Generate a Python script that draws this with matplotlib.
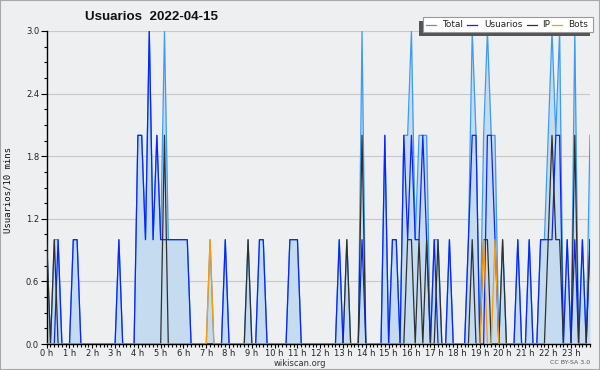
import matplotlib
matplotlib.use("Agg")
import matplotlib.pyplot as plt
from matplotlib.patches import Rectangle
from matplotlib.lines import Line2D
from matplotlib.ticker import MultipleLocator

# ---- data: 144 ten-minute slots of 2022-04-15 ----
slots = list(range(144))
hour_ticks = list(range(0, 144, 6))
hour_labels = [f"{h} h" for h in range(24)]
y_ticks = [0.0, 0.6, 1.2, 1.8, 2.4, 3.0]
y_labels = ["0.0", "0.6", "1.2", "1.8", "2.4", "3.0"]

total = [1, 0, 1, 1, 0, 0, 0, 1, 1, 0, 0, 0,
         0, 0, 0, 0, 0, 0, 0, 1, 0, 0, 0, 0,
         2, 2, 1, 3, 1, 2, 1, 3, 1, 1, 1, 1,
         1, 1, 0, 0, 0, 0, 0, 1, 0, 0, 0, 1,
         0, 0, 0, 0, 0, 1, 0, 0, 1, 1, 0, 0,
         0, 0, 0, 0, 1, 1, 1, 0, 0, 0, 0, 0,
         0, 0, 0, 0, 0, 1, 0, 1, 0, 0, 0, 3,
         0, 0, 0, 0, 0, 2, 0, 1, 1, 0, 2, 2,
         3, 1, 2, 2, 2, 0, 1, 1, 0, 0, 1, 0,
         0, 0, 0, 1, 3, 2, 0, 2, 3, 2, 2, 0,
         1, 0, 0, 0, 1, 0, 0, 1, 0, 0, 1, 1,
         2, 3, 2, 3, 0, 1, 0, 3, 0, 1, 0, 2]

usuarios = [0, 0, 0, 1, 0, 0, 0, 1, 1, 0, 0, 0,
            0, 0, 0, 0, 0, 0, 0, 1, 0, 0, 0, 0,
            2, 2, 1, 3, 1, 2, 1, 1, 1, 1, 1, 1,
            1, 1, 0, 0, 0, 0, 0, 0, 0, 0, 0, 1,
            0, 0, 0, 0, 0, 0, 0, 0, 1, 1, 0, 0,
            0, 0, 0, 0, 1, 1, 1, 0, 0, 0, 0, 0,
            0, 0, 0, 0, 0, 1, 0, 0, 0, 0, 0, 1,
            0, 0, 0, 0, 0, 2, 0, 1, 1, 0, 2, 1,
            2, 1, 1, 2, 1, 0, 1, 0, 0, 0, 1, 0,
            0, 0, 0, 1, 2, 2, 0, 0, 2, 2, 1, 0,
            0, 0, 0, 0, 1, 0, 0, 1, 0, 0, 1, 1,
            1, 1, 2, 2, 0, 1, 0, 1, 0, 1, 0, 1]

ip = [1, 0, 1, 0, 0, 0, 0, 0, 0, 0, 0, 0,
      0, 0, 0, 0, 0, 0, 0, 0, 0, 0, 0, 0,
      0, 0, 0, 0, 0, 0, 0, 2, 0, 0, 0, 0,
      0, 0, 0, 0, 0, 0, 0, 0, 0, 0, 0, 0,
      0, 0, 0, 0, 0, 1, 0, 0, 0, 0, 0, 0,
      0, 0, 0, 0, 0, 0, 0, 0, 0, 0, 0, 0,
      0, 0, 0, 0, 0, 0, 0, 1, 0, 0, 0, 2,
      0, 0, 0, 0, 0, 0, 0, 0, 0, 0, 0, 1,
      1, 0, 1, 0, 1, 0, 0, 1, 0, 0, 0, 0,
      0, 0, 0, 0, 1, 0, 0, 1, 1, 0, 0, 0,
      1, 0, 0, 0, 0, 0, 0, 0, 0, 0, 0, 0,
      1, 2, 1, 1, 0, 0, 0, 2, 0, 0, 0, 1]

bots = [0] * 43 + [1] + [0] * 71 + [1, 0, 0, 1] + [0] * 25

# ---- styling ----
BG = "#EEEFF1"
C_TOTAL = "#3D9BF0"
C_FILL = "#C5DCF0"
C_USR = "#0A24FF"
C_IP = "#303030"
C_BOTS = "#FF9A00"

fig = plt.figure(figsize=(6.0, 3.7), dpi=100, facecolor=BG)
W, H = 600.0, 370.0
ax = fig.add_axes([46.7 / W, 1 - 344 / H, (590 - 46.7) / W, (344 - 31) / H])
ax.set_facecolor(BG)

ax.fill_between(slots, total, 0, color=C_FILL, linewidth=0, zorder=1)
ax.plot(slots, total, color=C_TOTAL, lw=0.9, zorder=2)
ax.plot(slots, usuarios, color=C_USR, lw=0.9, zorder=3)
ax.plot(slots, ip, color=C_IP, lw=0.9, zorder=4)
ax.plot(slots, bots, color=C_BOTS, lw=0.9, zorder=5)

ax.set_xlim(0, 143)
ax.set_ylim(0, 3.0)
ax.set_yticks(y_ticks)
ax.set_yticklabels(y_labels)
ax.yaxis.set_minor_locator(MultipleLocator(0.15))
ax.set_xticks(hour_ticks)
ax.set_xticklabels(hour_labels)
ax.xaxis.set_minor_locator(MultipleLocator(1))
ax.grid(axis="y", color="#C8C8C8", lw=0.8, zorder=0)
ax.set_axisbelow(True)
for s in ("top", "right"):
    ax.spines[s].set_visible(False)
for s in ("left", "bottom"):
    ax.spines[s].set_color("black")
    ax.spines[s].set_linewidth(1.0)
ax.tick_params(axis="y", which="major", length=4, width=0.8, labelsize=6,
               pad=1.5, colors="black", labelcolor="#222222")
ax.tick_params(axis="x", which="major", length=3, width=0.8, labelsize=6,
               pad=0.5, colors="black", labelcolor="#222222")
ax.tick_params(axis="both", which="minor", length=2.5, width=0.8)

# title and labels
fig.text(85 / W, 1 - 17 / H, "Usuarios  2022-04-15", fontsize=9.6, fontweight="bold",
         family="Liberation Sans", ha="left", va="center", color="#111111")
fig.text(8 / W, 1 - 190 / H, "Usuarios/10 mins", rotation=90, fontsize=6.5,
         family="DejaVu Sans Mono", ha="center", va="center", color="#111111")
fig.text(300 / W, 1 - 363 / H, "wikiscan.org", fontsize=6, ha="center",
         va="center", color="#333333")
fig.text(590 / W, 1 - 363 / H, "CC BY-SA 3.0", fontsize=4.5, ha="right",
         va="center", color="#555555")

# legend with shadow (figure pixel coords)
def fx(x):
    return x / W

def fy(y):
    return 1 - y / H

fig.patches.append(Rectangle((fx(419), fy(35.7)), fx(590) - fx(419), fy(21) - fy(35.7),
                             transform=fig.transFigure, facecolor="#555555",
                             edgecolor="none", zorder=10))
fig.patches.append(Rectangle((fx(422.5), fy(32.3)), fx(593) - fx(422.5), fy(17.3) - fy(32.3),
                             transform=fig.transFigure, facecolor="white",
                             edgecolor="#999999", lw=0.8, zorder=11))
legend_items = [("Total", C_TOTAL, 426, 442.5),
                ("Usuarios", C_USR, 467, 484),
                ("IP", C_IP, 527, 542),
                ("Bots", C_BOTS, 552, 568)]
for name, col, lx, tx in legend_items:
    fig.lines.append(Line2D([fx(lx), fx(lx + 10)], [fy(24.7), fy(24.7)],
                            transform=fig.transFigure, color=col, lw=0.9, zorder=12))
    fig.text(fx(tx), fy(24.7), name, fontsize=6.4, ha="left", va="center",
             color="#222222", zorder=13)

# outer border
fig.patches.append(Rectangle((0, 0), 1, 1, transform=fig.transFigure, fill=False,
                             edgecolor="#A8A8A8", lw=1.5, zorder=20))

fig.savefig("out.png", dpi=100, facecolor=BG)
